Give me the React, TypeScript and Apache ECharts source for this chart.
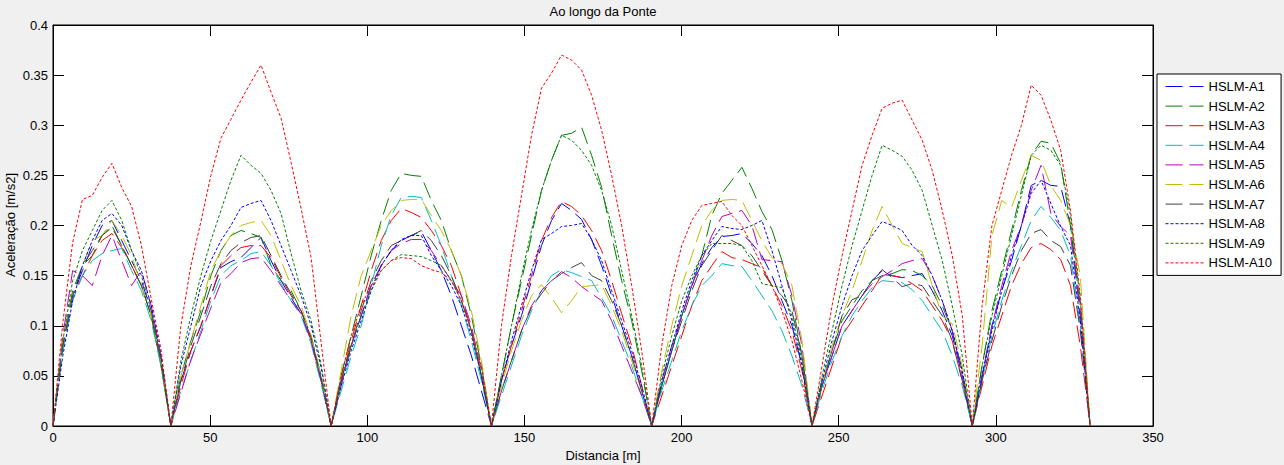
import React, { useEffect, useRef } from "react";
import * as echarts from "echarts";

// Distance along the bridge [m] (support spans: 37.5 + 5 x 51 + 37.5)
const distances = [
  0, 3.125, 6.25, 9.375, 12.5, 15.625, 18.75, 21.875, 25, 28.125, 31.25, 34.375, 37.5,
  40.6875, 43.875, 47.0625, 50.25, 53.4375, 56.625, 59.8125, 63, 66.1875, 69.375, 72.5625, 75.75, 78.9375, 82.125, 85.3125, 88.5,
  91.6875, 94.875, 98.0625, 101.25, 104.4375, 107.625, 110.8125, 114, 117.1875, 120.375, 123.5625, 126.75, 129.9375, 133.125, 136.3125, 139.5,
  142.6875, 145.875, 149.0625, 152.25, 155.4375, 158.625, 161.8125, 165, 168.1875, 171.375, 174.5625, 177.75, 180.9375, 184.125, 187.3125, 190.5,
  193.6875, 196.875, 200.0625, 203.25, 206.4375, 209.625, 212.8125, 216, 219.1875, 222.375, 225.5625, 228.75, 231.9375, 235.125, 238.3125, 241.5,
  244.6875, 247.875, 251.0625, 254.25, 257.4375, 260.625, 263.8125, 267, 270.1875, 273.375, 276.5625, 279.75, 282.9375, 286.125, 289.3125, 292.5,
  295.625, 298.75, 301.875, 305, 308.125, 311.25, 314.375, 317.5, 320.625, 323.75, 326.875, 330,
];

const hslmA1 = [
  0, 0.08, 0.13, 0.155, 0.18, 0.2, 0.205, 0.185, 0.165, 0.145, 0.115, 0.065, 0,
  0.045, 0.075, 0.1, 0.13, 0.158, 0.164, 0.168, 0.178, 0.188, 0.165, 0.145, 0.128, 0.112, 0.085, 0.045, 0,
  0.045, 0.08, 0.11, 0.14, 0.16, 0.175, 0.185, 0.19, 0.194, 0.175, 0.155, 0.13, 0.1, 0.07, 0.035, 0,
  0.045, 0.08, 0.11, 0.145, 0.18, 0.205, 0.222, 0.215, 0.206, 0.186, 0.16, 0.13, 0.1, 0.07, 0.035, 0,
  0.04, 0.075, 0.11, 0.14, 0.162, 0.178, 0.189, 0.19, 0.192, 0.182, 0.17, 0.15, 0.125, 0.1, 0.06, 0,
  0.04, 0.07, 0.1, 0.115, 0.13, 0.145, 0.155, 0.15, 0.148, 0.15, 0.152, 0.135, 0.115, 0.09, 0.05, 0,
  0.05, 0.1, 0.135, 0.165, 0.2, 0.24, 0.245, 0.24, 0.239, 0.2, 0.11, 0,
];
const hslmA2 = [
  0, 0.085, 0.135, 0.16, 0.17, 0.19, 0.2, 0.18, 0.16, 0.14, 0.11, 0.06, 0,
  0.05, 0.085, 0.115, 0.15, 0.175, 0.19, 0.195, 0.192, 0.188, 0.16, 0.145, 0.135, 0.115, 0.09, 0.05, 0,
  0.05, 0.09, 0.13, 0.17, 0.205, 0.235, 0.252, 0.25, 0.249, 0.225, 0.205, 0.175, 0.15, 0.11, 0.06, 0,
  0.05, 0.1, 0.145, 0.19, 0.235, 0.265, 0.29, 0.292, 0.298, 0.27, 0.238, 0.19, 0.145, 0.105, 0.055, 0,
  0.04, 0.075, 0.11, 0.14, 0.17, 0.21, 0.232, 0.245, 0.258, 0.237, 0.214, 0.196, 0.165, 0.125, 0.07, 0,
  0.045, 0.075, 0.105, 0.12, 0.135, 0.145, 0.15, 0.152, 0.156, 0.155, 0.15, 0.14, 0.12, 0.095, 0.055, 0,
  0.06, 0.115, 0.155, 0.195, 0.235, 0.27, 0.284, 0.282, 0.262, 0.2, 0.12, 0,
];
const hslmA3 = [
  0, 0.08, 0.13, 0.15, 0.17, 0.185, 0.192, 0.178, 0.16, 0.14, 0.11, 0.06, 0,
  0.04, 0.075, 0.1, 0.13, 0.16, 0.17, 0.178, 0.18, 0.18, 0.168, 0.148, 0.13, 0.115, 0.085, 0.045, 0,
  0.045, 0.085, 0.12, 0.155, 0.185, 0.205, 0.217, 0.213, 0.208, 0.195, 0.18, 0.16, 0.13, 0.095, 0.05, 0,
  0.045, 0.08, 0.115, 0.15, 0.185, 0.208, 0.224, 0.219, 0.21, 0.195, 0.175, 0.145, 0.112, 0.08, 0.04, 0,
  0.03, 0.06, 0.09, 0.12, 0.145, 0.16, 0.174, 0.168, 0.166, 0.162, 0.158, 0.14, 0.12, 0.095, 0.055, 0,
  0.03, 0.06, 0.09, 0.105, 0.12, 0.135, 0.151, 0.15, 0.148, 0.142, 0.135, 0.12, 0.105, 0.085, 0.045, 0,
  0.04, 0.08, 0.11, 0.14, 0.162, 0.178, 0.182, 0.176, 0.166, 0.14, 0.08, 0,
];
const hslmA4 = [
  0, 0.075, 0.125, 0.15, 0.165, 0.172, 0.175, 0.177, 0.155, 0.135, 0.105, 0.06, 0,
  0.035, 0.065, 0.095, 0.125, 0.15, 0.16, 0.165, 0.172, 0.174, 0.16, 0.142, 0.125, 0.11, 0.082, 0.042, 0,
  0.035, 0.07, 0.1, 0.14, 0.18, 0.21, 0.228, 0.229, 0.228, 0.205, 0.18, 0.15, 0.12, 0.085, 0.045, 0,
  0.03, 0.06, 0.09, 0.115, 0.135, 0.15, 0.156, 0.153, 0.149, 0.145, 0.128, 0.11, 0.085, 0.06, 0.03, 0,
  0.035, 0.065, 0.095, 0.12, 0.14, 0.15, 0.162, 0.16, 0.159, 0.145, 0.13, 0.115, 0.095, 0.07, 0.04, 0,
  0.035, 0.065, 0.09, 0.11, 0.125, 0.138, 0.145, 0.144, 0.143, 0.136, 0.125, 0.11, 0.095, 0.07, 0.04, 0,
  0.045, 0.09, 0.125, 0.155, 0.18, 0.205, 0.219, 0.208, 0.195, 0.17, 0.1, 0,
];
const hslmA5 = [
  0, 0.09, 0.155, 0.15, 0.14, 0.17, 0.19, 0.165, 0.14, 0.155, 0.12, 0.07, 0,
  0.033, 0.066, 0.092, 0.118, 0.143, 0.152, 0.163, 0.167, 0.168, 0.155, 0.14, 0.125, 0.112, 0.085, 0.046, 0,
  0.04, 0.08, 0.11, 0.14, 0.16, 0.175, 0.182, 0.186, 0.186, 0.175, 0.16, 0.145, 0.13, 0.1, 0.055, 0,
  0.035, 0.065, 0.095, 0.12, 0.135, 0.145, 0.154, 0.148, 0.139, 0.132, 0.125, 0.105, 0.08, 0.055, 0.03, 0,
  0.045, 0.08, 0.11, 0.14, 0.165, 0.19, 0.209, 0.212, 0.215, 0.2, 0.166, 0.165, 0.164, 0.13, 0.08, 0,
  0.04, 0.07, 0.1, 0.115, 0.13, 0.142, 0.149, 0.155, 0.162, 0.165, 0.167, 0.15, 0.125, 0.095, 0.05, 0,
  0.05, 0.1, 0.14, 0.175, 0.2, 0.235, 0.26, 0.212, 0.199, 0.19, 0.115, 0,
];
const hslmA6 = [
  0, 0.085, 0.13, 0.16, 0.185, 0.19, 0.205, 0.19, 0.17, 0.14, 0.11, 0.065, 0,
  0.05, 0.085, 0.12, 0.155, 0.175, 0.19, 0.2, 0.203, 0.205, 0.19, 0.165, 0.14, 0.12, 0.09, 0.05, 0,
  0.055, 0.11, 0.15, 0.175, 0.2, 0.215, 0.225, 0.226, 0.226, 0.21, 0.195, 0.175, 0.15, 0.115, 0.065, 0,
  0.04, 0.075, 0.105, 0.13, 0.141, 0.128, 0.113, 0.125, 0.139, 0.14, 0.141, 0.12, 0.095, 0.065, 0.035, 0,
  0.055, 0.1, 0.14, 0.17, 0.2, 0.215, 0.225, 0.226, 0.225, 0.205, 0.185, 0.168, 0.162, 0.14, 0.085, 0,
  0.04, 0.08, 0.11, 0.135, 0.165, 0.195, 0.219, 0.2, 0.182, 0.178, 0.174, 0.14, 0.11, 0.102, 0.06, 0,
  0.08, 0.19, 0.225, 0.218, 0.245, 0.27, 0.265, 0.24, 0.225, 0.2, 0.15, 0,
];
const hslmA7 = [
  0, 0.08, 0.13, 0.16, 0.175, 0.19, 0.198, 0.18, 0.16, 0.14, 0.11, 0.065, 0,
  0.045, 0.08, 0.11, 0.14, 0.162, 0.175, 0.183, 0.188, 0.19, 0.17, 0.15, 0.132, 0.115, 0.088, 0.048, 0,
  0.045, 0.08, 0.115, 0.145, 0.165, 0.18, 0.185, 0.19, 0.195, 0.185, 0.17, 0.15, 0.125, 0.095, 0.05, 0,
  0.035, 0.065, 0.095, 0.118, 0.132, 0.145, 0.152, 0.158, 0.163, 0.15, 0.145, 0.125, 0.1, 0.07, 0.035, 0,
  0.04, 0.075, 0.105, 0.135, 0.16, 0.175, 0.19, 0.185, 0.18, 0.17, 0.155, 0.14, 0.13, 0.115, 0.07, 0,
  0.04, 0.075, 0.11, 0.126, 0.13, 0.145, 0.156, 0.148, 0.139, 0.142, 0.14, 0.125, 0.11, 0.085, 0.045, 0,
  0.045, 0.085, 0.12, 0.15, 0.175, 0.192, 0.196, 0.185, 0.179, 0.16, 0.095, 0,
];
const hslmA8 = [
  0, 0.07, 0.125, 0.16, 0.185, 0.205, 0.212, 0.2, 0.175, 0.155, 0.12, 0.07, 0,
  0.06, 0.1, 0.14, 0.165, 0.185, 0.2, 0.218, 0.222, 0.225, 0.205, 0.18, 0.155, 0.13, 0.1, 0.058, 0,
  0.04, 0.075, 0.105, 0.135, 0.16, 0.175, 0.186, 0.19, 0.19, 0.17, 0.155, 0.14, 0.12, 0.09, 0.05, 0,
  0.045, 0.085, 0.12, 0.155, 0.186, 0.192, 0.199, 0.2, 0.202, 0.186, 0.165, 0.135, 0.105, 0.075, 0.04, 0,
  0.045, 0.08, 0.115, 0.145, 0.17, 0.185, 0.199, 0.197, 0.196, 0.2, 0.205, 0.175, 0.14, 0.105, 0.06, 0,
  0.045, 0.085, 0.12, 0.15, 0.175, 0.19, 0.204, 0.2, 0.195, 0.18, 0.17, 0.15, 0.125, 0.095, 0.055, 0,
  0.05, 0.095, 0.135, 0.17, 0.2, 0.232, 0.245, 0.222, 0.199, 0.18, 0.105, 0,
];
const hslmA9 = [
  0, 0.085, 0.145, 0.175, 0.195, 0.215, 0.225, 0.205, 0.175, 0.15, 0.115, 0.065, 0,
  0.065, 0.11, 0.15, 0.185, 0.215, 0.245, 0.27, 0.26, 0.252, 0.235, 0.212, 0.172, 0.135, 0.105, 0.062, 0,
  0.045, 0.08, 0.11, 0.135, 0.155, 0.165, 0.171, 0.17, 0.169, 0.165, 0.16, 0.145, 0.125, 0.095, 0.05, 0,
  0.05, 0.1, 0.15, 0.195, 0.235, 0.265, 0.29, 0.285, 0.275, 0.26, 0.235, 0.2, 0.155, 0.11, 0.06, 0,
  0.05, 0.09, 0.125, 0.15, 0.17, 0.182, 0.182, 0.182, 0.18, 0.165, 0.142, 0.14, 0.138, 0.11, 0.065, 0,
  0.05, 0.095, 0.14, 0.18, 0.215, 0.25, 0.28, 0.275, 0.269, 0.255, 0.235, 0.2, 0.165, 0.12, 0.07, 0,
  0.06, 0.11, 0.15, 0.19, 0.23, 0.27, 0.28, 0.275, 0.26, 0.21, 0.125, 0,
];
const hslmA10 = [
  0, 0.103, 0.183, 0.226, 0.23, 0.248, 0.262, 0.238, 0.219, 0.18, 0.127, 0.076, 0,
  0.1, 0.16, 0.204, 0.25, 0.287, 0.306, 0.325, 0.343, 0.36, 0.333, 0.307, 0.263, 0.217, 0.168, 0.083, 0,
  0.05, 0.09, 0.12, 0.14, 0.155, 0.165, 0.168, 0.167, 0.16, 0.156, 0.153, 0.145, 0.125, 0.095, 0.06, 0,
  0.1, 0.17, 0.23, 0.29, 0.337, 0.352, 0.37, 0.365, 0.355, 0.33, 0.295, 0.25, 0.2, 0.14, 0.075, 0,
  0.08, 0.14, 0.18, 0.205, 0.22, 0.222, 0.224, 0.21, 0.2, 0.18, 0.16, 0.14, 0.115, 0.085, 0.045, 0,
  0.06, 0.12, 0.17, 0.215, 0.26, 0.29, 0.317, 0.322, 0.325, 0.305, 0.285, 0.255, 0.215, 0.17, 0.11, 0,
  0.12, 0.2, 0.235, 0.27, 0.3, 0.34, 0.33, 0.305, 0.275, 0.215, 0.13, 0,
];

const seriesNames = [
  "HSLM-A1", "HSLM-A2", "HSLM-A3", "HSLM-A4", "HSLM-A5",
  "HSLM-A6", "HSLM-A7", "HSLM-A8", "HSLM-A9", "HSLM-A10",
];
const seriesValues = [hslmA1, hslmA2, hslmA3, hslmA4, hslmA5, hslmA6, hslmA7, hslmA8, hslmA9, hslmA10];
const seriesColors = [
  "#0000ff", "#008000", "#ff0000", "#00bfbf", "#bf00bf",
  "#bfbf00", "#404040", "#0000ff", "#008000", "#ff0000",
];
const longDash = [17, 7];
const shortDash = [3, 2];
const seriesDashes = [
  longDash, longDash, longDash, longDash, longDash, longDash, longDash,
  shortDash, shortDash, shortDash,
];

const FONT = "'Liberation Sans', Arial, Helvetica, sans-serif";

export default function App() {
  const ref = useRef<HTMLDivElement>(null);

  useEffect(() => {
    if (!ref.current) return;
    const chart = echarts.init(ref.current, null, { renderer: "svg" });

    const axisCommon = {
      axisLine: { show: true, onZero: false, lineStyle: { color: "#000", width: 1 } },
      axisTick: { show: true, inside: true, length: 11, lineStyle: { color: "#000", width: 1 } },
      splitLine: { show: false },
    };

    const series = seriesNames.map((name, i) => ({
      name,
      type: "line",
      xAxisIndex: 0,
      yAxisIndex: 0,
      symbol: "none",
      showSymbol: false,
      clip: true,
      data: distances.map((d, j) => [d, seriesValues[i][j]]),
      lineStyle: { color: seriesColors[i], width: 1, type: seriesDashes[i] },
      itemStyle: { color: seriesColors[i] },
      emphasis: { disabled: true },
    }));

    chart.setOption({
      animation: false,
      backgroundColor: "#f0f0f0",
      textStyle: { fontFamily: FONT },
      grid: {
        left: 53,
        top: 25,
        width: 1100,
        height: 401,
        show: true,
        backgroundColor: "#ffffff",
        borderColor: "#000",
        borderWidth: 1,
        containLabel: false,
      },
      xAxis: [
        {
          type: "value",
          position: "bottom",
          min: 0,
          max: 350,
          interval: 50,
          ...axisCommon,
          axisLabel: { color: "#000", fontSize: 13, margin: 5, fontFamily: FONT },
        },
        {
          type: "value",
          position: "top",
          min: 0,
          max: 350,
          interval: 50,
          ...axisCommon,
          axisLabel: { show: false },
        },
      ],
      yAxis: [
        {
          type: "value",
          position: "left",
          min: 0,
          max: 0.4,
          interval: 0.05,
          ...axisCommon,
          axisLabel: { color: "#000", fontSize: 13, margin: 5, fontFamily: FONT },
        },
        {
          type: "value",
          position: "right",
          min: 0,
          max: 0.4,
          interval: 0.05,
          ...axisCommon,
          axisLabel: { show: false },
        },
      ],
      legend: {
        orient: "vertical",
        left: 1157,
        top: 74,
        padding: [6, 9, 6, 8],
        itemWidth: 38,
        itemHeight: 12,
        itemGap: 6.6,
        backgroundColor: "#ffffff",
        borderColor: "#000",
        borderWidth: 1,
        borderRadius: 0,
        selectedMode: false,
        itemStyle: { opacity: 0, borderWidth: 0 },
        lineStyle: { width: 1 },
        textStyle: { color: "#000", fontSize: 13, fontFamily: FONT },
        data: seriesNames,
      },
      graphic: [
        {
          type: "text",
          x: 603,
          y: 11,
          style: {
            text: "Ao longo da Ponte",
            align: "center",
            verticalAlign: "middle",
            fontSize: 13,
            fontFamily: FONT,
            fill: "#000",
          },
        },
        {
          type: "text",
          x: 603,
          y: 455,
          style: {
            text: "Distancia [m]",
            align: "center",
            verticalAlign: "middle",
            fontSize: 13,
            fontFamily: FONT,
            fill: "#000",
          },
        },
        {
          type: "text",
          x: 10,
          y: 225,
          rotation: Math.PI / 2,
          style: {
            text: "Aceleração [m/s2]",
            align: "center",
            verticalAlign: "middle",
            fontSize: 13,
            fontFamily: FONT,
            fill: "#000",
          },
        },
      ],
      series,
    });

    return () => chart.dispose();
  }, []);

  return (
    <div
      ref={ref}
      style={{ position: "fixed", left: 0, top: 0, width: 1284, height: 465 }}
    />
  );
}
